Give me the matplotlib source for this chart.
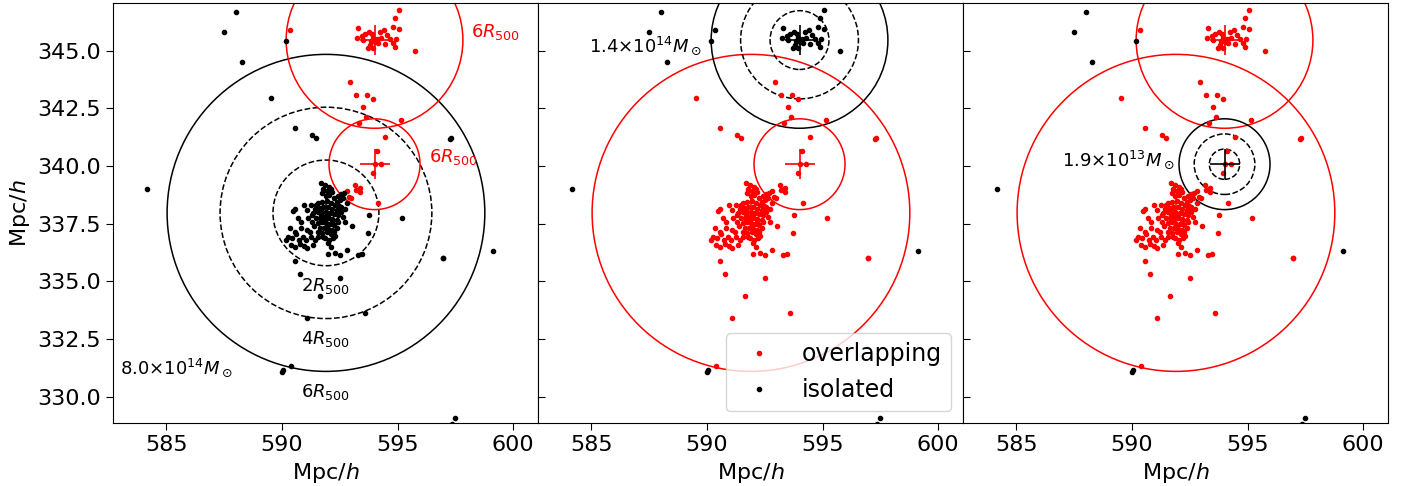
import numpy as np
import matplotlib.pyplot as plt
from matplotlib.patches import Circle

# halo centres (Mpc/h), R500 (Mpc/h) and masses
halo_x = [591.9, 594.0, 594.0]
halo_y = [337.97, 345.46, 340.08]
halo_r500 = [1.145, 0.637, 0.328]
halo_mass = ['8.0', '1.4', '1.9']
halo_exp = [14, 14, 13]

# galaxies of the main halo (A)
a_x = [591.68, 591.85, 592.03, 591.78, 591.95, 592.11, 591.71, 591.88, 592.04, 592.17,
       592.26, 592.40, 592.55, 592.69, 592.36, 592.50, 592.65,
       591.56, 591.74, 591.93, 592.11, 592.29, 592.46,
       591.42, 591.61, 591.78, 591.97, 592.14, 592.36, 592.57,
       591.35, 591.54, 591.71, 591.88, 592.07, 592.26, 592.43, 592.65,
       591.45, 591.64, 591.82, 592.00, 592.17, 592.36,
       591.54, 591.71, 591.88, 592.07, 592.26, 592.43,
       591.64, 591.82, 592.00, 592.17, 592.36,
       591.71, 591.93, 592.11, 592.31,
       591.85, 592.03, 592.21, 592.00,
       590.48, 590.58, 590.96, 591.25, 591.10, 590.70, 591.13, 591.30, 591.39,
       590.84, 590.34, 591.06, 591.20,
       590.27, 590.44, 590.60, 590.73, 590.92, 591.02, 591.25,
       590.38, 590.56, 590.77, 590.96, 591.10, 591.42, 591.56,
       591.49, 591.67, 591.97, 591.78, 592.14, 591.93, 592.26, 591.56, 591.78,
       591.30, 590.84, 590.56, 590.19, 591.35, 592.11, 592.57, 592.79,
       592.00, 592.29, 592.50, 592.79, 593.30, 593.44,
       593.01, 592.72, 592.72, 590.56, 590.77, 593.73, 593.76, 595.20,
       596.94, 596.98, 592.50, 591.66, 591.06, 593.60, 590.38,
       589.53, 590.55, 591.29, 591.46, 597.26, 597.30]
a_y = [339.25, 339.18, 339.10, 339.00, 338.92, 339.00, 338.82, 338.71, 338.74, 338.86,
       338.63, 338.71, 338.77, 338.82, 338.45, 338.53, 338.60,
       338.38, 338.45, 338.48, 338.42, 338.31, 338.28,
       338.16, 338.19, 338.24, 338.24, 338.16, 338.09, 338.02,
       337.95, 337.99, 338.02, 337.99, 337.95, 337.90, 337.88, 337.80,
       337.76, 337.76, 337.80, 337.73, 337.70, 337.66,
       337.51, 337.56, 337.51, 337.47, 337.44, 337.59,
       337.30, 337.33, 337.27, 337.23, 337.30,
       337.08, 337.12, 337.04, 336.98,
       336.86, 336.79, 336.86, 336.65,
       338.05, 338.16, 338.31, 338.31, 338.09, 337.76, 337.73, 337.59, 337.41,
       337.33, 337.30, 337.23, 337.12,
       336.94, 336.86, 337.04, 336.79, 336.94, 336.79, 336.94,
       336.58, 336.50, 336.60, 336.55, 336.46, 336.79, 336.94,
       338.31, 337.90, 337.88, 337.66, 337.59, 337.41, 337.15, 337.15, 336.94,
       337.88, 337.59, 337.15, 336.79, 336.58, 336.50, 338.24, 338.38,
       336.19, 336.21, 336.14, 336.36, 336.14, 336.17,
       337.41, 338.16, 337.59, 335.88, 335.32, 337.08, 337.88, 337.73,
       336.00, 336.03, 335.16, 334.36, 333.40, 333.61, 331.33,
       342.95, 341.66, 341.36, 341.21, 341.18, 341.20]

# galaxies of the upper halo (B)
b_x = [594.88, 593.29, 594.81, 595.05, 594.42, 594.23, 593.75, 593.58, 593.44, 593.87,
       594.56, 593.26, 593.51, 593.94, 594.09, 594.30, 594.04, 593.84, 594.16, 594.66,
       594.95, 594.81, 593.80, 593.70, 593.94, 594.88, 594.45, 595.75, 590.34, 595.05]
b_y = [346.40, 346.00, 346.04, 345.94, 345.90, 345.82, 345.80, 345.71, 345.65, 345.71,
       345.68, 345.54, 345.46, 345.56, 345.51, 345.54, 345.39, 345.42, 345.32, 345.51,
       345.51, 345.32, 345.25, 345.10, 345.13, 345.17, 345.28, 344.98, 345.88, 346.76]

# galaxies of the small halo (C) and the bridge between the halos
c_x = [592.93, 593.18, 593.68, 593.94, 593.51, 593.61, 593.34, 595.14, 594.45,
       594.09, 594.01, 594.30, 593.94, 593.15, 593.34, 593.39, 592.83, 592.90,
       594.13, 593.22, 593.37, 592.98]
c_y = [343.66, 343.08, 343.08, 342.89, 342.54, 342.14, 341.85, 341.99, 341.24,
       340.66, 340.09, 340.07, 339.71, 339.18, 338.99, 338.86, 338.92, 338.67,
       338.42, 338.96, 339.03, 338.63]

# field galaxies
f_x = [587.99, 587.50, 590.16, 588.29, 584.18, 599.13, 590.02, 590.05, 597.48, 597.33]
f_y = [346.69, 345.79, 345.43, 344.52, 339.02, 336.32, 331.08, 331.15, 329.10, 328.84]

groups = [(a_x, a_y), (b_x, b_y), (c_x, c_y)]
# which galaxy group is drawn as "isolated" in each panel
isolated = [[0], [1], []]

fig = plt.figure(figsize=(14.11, 4.86), dpi=100)

for i in range(3):
    ax = fig.add_axes([(113 + 425 * i) / 1411, 62.7 / 486, 425 / 1411, 420.6 / 486])

    red_x, red_y = [], []
    blk_x, blk_y = list(f_x), list(f_y)
    for g, (gx, gy) in enumerate(groups):
        if g in isolated[i]:
            blk_x += gx
            blk_y += gy
        else:
            red_x += gx
            red_y += gy

    for h in range(3):
        cx, cy, r = halo_x[h], halo_y[h], halo_r500[h]
        if h == i:
            ax.add_patch(Circle((cx, cy), 6 * r, fill=False, color='black', lw=1.1))
            ax.add_patch(Circle((cx, cy), 4 * r, fill=False, color='black', ls='--', lw=1.1))
            ax.add_patch(Circle((cx, cy), 2 * r, fill=False, color='black', ls='--', lw=1.1))
        else:
            ax.add_patch(Circle((cx, cy), 6 * r, fill=False, color='red', lw=1.1))

    ax.plot(red_x, red_y, '.', color='red', label='overlapping')
    ax.plot(blk_x, blk_y, '.', color='black', label='isolated')

    for h in range(3):
        c = 'black' if h == i else 'red'
        ax.plot(halo_x[h], halo_y[h], '+', color=c, ms=21, mew=1.2)

    ax.set_xlim(582.69, 601.07)
    ax.set_ylim(328.85, 347.08)
    ax.set_xticks([585, 590, 595, 600])
    ax.set_yticks(np.arange(330, 346, 2.5))
    ax.tick_params(labelsize=16, length=5)
    ax.set_xlabel('Mpc/$h$', fontsize=16)
    if i == 0:
        ax.set_ylabel('Mpc/$h$', fontsize=16)
    else:
        ax.tick_params(axis='y', direction='in', labelleft=False)

    mass = r'$%s{\times}10^{%d}M_\odot$' % (halo_mass[i], halo_exp[i])
    if i == 0:
        cx, cy, r = halo_x[0], halo_y[0], halo_r500[0]
        for k in [2, 4, 6]:
            ax.text(cx, cy - k * r - 0.45, r'$%dR_{500}$' % k, fontsize=13,
                    ha='center', va='top')
        for h in [1, 2]:
            ax.text(halo_x[h] + 6 * halo_r500[h] + 0.37, halo_y[h] - 0.1, r'$6R_{500}$',
                    fontsize=13, color='red', ha='left', va='bottom')
        ax.text(587.85, 331.27, mass, fontsize=13, ha='right', va='center')
    elif i == 1:
        ax.text(589.76, 345.21, mass, fontsize=13, ha='right', va='center')
        ax.legend(loc='lower right', fontsize=17)
    else:
        ax.text(591.85, 340.26, mass, fontsize=13, ha='right', va='center')

fig.savefig('out.png', dpi=100)
